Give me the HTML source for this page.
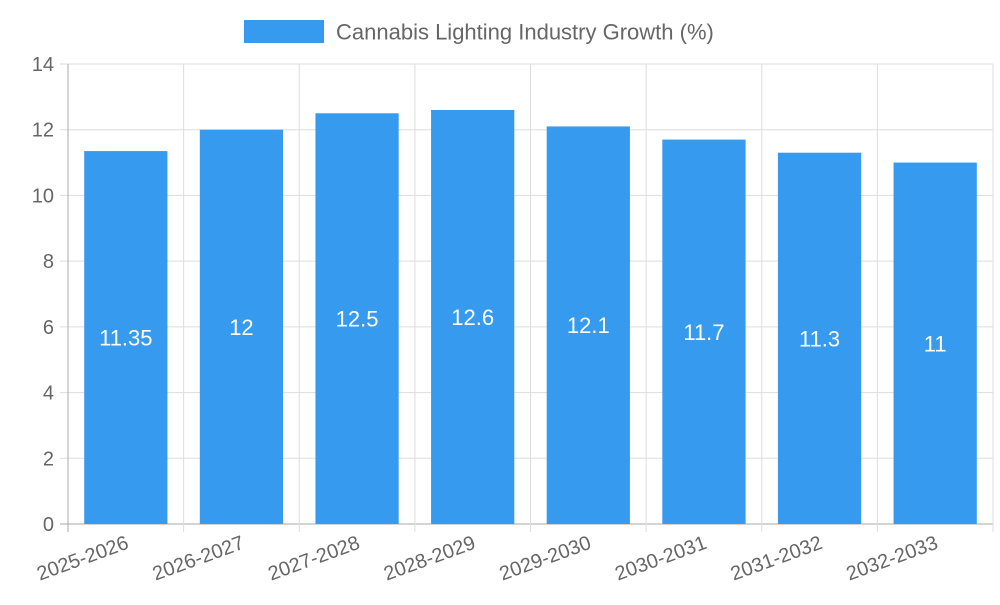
<!DOCTYPE html>
<html><head><meta charset="utf-8"><style>
body{margin:0;background:#fff;}
svg text{font-family:"Liberation Sans",sans-serif;}
</style></head><body>
<svg id="chart" width="1000" height="600">
<g>
<rect x="244" y="20" width="80" height="23" fill="#369bef"></rect>
<text x="336" y="39.5" font-size="22" fill="#666">Cannabis Lighting Industry Growth (%)</text>
</g>
<g id="grid"></g><g id="bars"></g><g id="labels"></g>
</svg>
<script>
const categories=["2025-2026","2026-2027","2027-2028","2028-2029","2029-2030","2030-2031","2031-2032","2032-2033"];
const values=[11.35,12,12.5,12.6,12.1,11.7,11.3,11];
const valueLabels=["11.35","12","12.5","12.6","12.1","11.7","11.3","11"];
const yTicks=[0,2,4,6,8,10,12,14];
const L=68,R=993,T=64,B=524,yMax=14;
const ns="http://www.w3.org/2000/svg";
const y=v=>B-(v/yMax)*(B-T);
const step=(R-L)/categories.length;
const x=i=>L+step*i;
function mk(tag,attrs,parent){const e=document.createElementNS(ns,tag);for(const k in attrs)e.setAttribute(k,attrs[k]);parent.appendChild(e);return e;}
const grid=document.getElementById('grid'),bars=document.getElementById('bars'),labels=document.getElementById('labels');
yTicks.forEach(t=>{
 const l=mk('line',{x1:L-8,x2:R,y1:y(t),y2:y(t),stroke:t===0?'#aaa':'#ddd','stroke-width':1},grid);
 
 
 const tx=mk('text',{x:L-14,y:y(t)+7,'text-anchor':'end','font-size':20,fill:'#666'},grid);
 tx.textContent=t;
 
 
});
for(let i=0;i<=categories.length;i++){
 const l=mk('line',{x1:x(i),x2:x(i),y1:T,y2:B+8,stroke:i===0?'#aaa':'#ddd','stroke-width':1},grid);
 
 
}
categories.forEach((c,i)=>{
 const bw=step*0.72,bx=x(i)+(step-bw)/2;
 const r=mk('rect',{x:bx,y:y(values[i]),width:bw,height:B-y(values[i]),fill:'#369bef'},bars);
 
 
 const vt=mk('text',{x:bx+bw/2,y:(y(values[i])+B)/2+8,'text-anchor':'middle','font-size':22,fill:'#fff'},labels);
 vt.textContent=valueLabels[i];
 
 
 const cx=x(i)+step/2;
 const ct=mk('text',{x:cx+4,y:B+24,'text-anchor':'end','font-size':20,fill:'#666',transform:`rotate(-20 ${cx+4} ${B+24})`},labels);
 ct.textContent=c;
 
 
});
</script>
</body></html>
